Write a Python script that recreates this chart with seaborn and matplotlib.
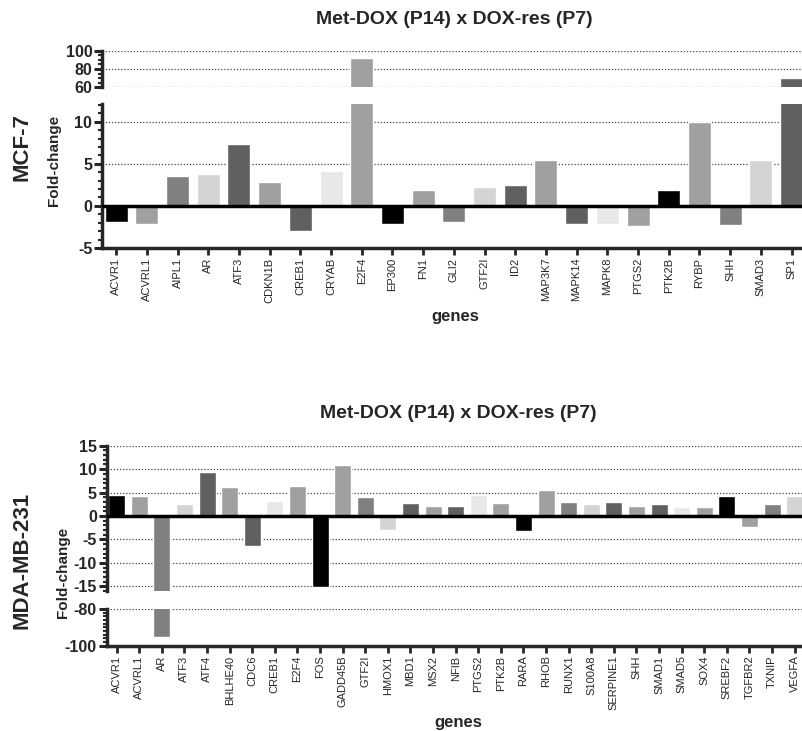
import numpy as np
import pandas as pd
import matplotlib
matplotlib.use("Agg")
import matplotlib.pyplot as plt
from matplotlib.ticker import MultipleLocator
import seaborn as sns

# MCF-7 fold changes
mcf7_genes = ["ACVR1", "ACVRL1", "AIPL1", "AR", "ATF3", "CDKN1B", "CREB1", "CRYAB",
              "E2F4", "EP300", "FN1", "GLI2", "GTF2I", "ID2", "MAP3K7", "MAPK14",
              "MAPK8", "PTGS2", "PTK2B", "RYBP", "SHH", "SMAD3", "SP1"]
mcf7_fc = [-1.9, -2.2, 3.6, 3.8, 7.3, 2.8, -3.0, 4.2,
           92.0, -2.1, 1.9, -1.9, 2.2, 2.5, 5.5, -2.1,
           -2.2, -2.4, 1.9, 10.0, -2.3, 5.4, 70.0]

# MDA-MB-231 fold changes
mda_genes = ["ACVR1", "ACVRL1", "AR", "ATF3", "ATF4", "BHLHE40", "CDC6", "CREB1",
             "E2F4", "FOS", "GADD45B", "GTF2I", "HMOX1", "MBD1", "MSX2", "NFIB",
             "PTGS2", "PTK2B", "RARA", "RHOB", "RUNX1", "S100A8", "SERPINE1", "SHH",
             "SMAD1", "SMAD5", "SOX4", "SREBF2", "TGFBR2", "TXNIP", "VEGFA"]
mda_fc = [4.5, 4.3, -95.0, 2.5, 9.3, 6.1, -6.3, 3.2,
          6.4, -15.1, 10.8, 4.1, -3.0, 2.8, 2.2, 2.1,
          4.4, 2.7, -3.1, 5.6, 2.9, 2.5, 2.9, 2.2,
          2.5, 2.0, 2.0, 4.2, -2.4, 2.5, 4.2]

title = "Met-DOX (P14) x DOX-res (P7)"
shades = ["#000000", "#a0a0a0", "#808080", "#d4d4d4", "#606060",
          "#a0a0a0", "#606060", "#e8e8e8", "#a0a0a0"]

sns.set_style("ticks")
plt.rcParams["font.family"] = ["Liberation Sans", "DejaVu Sans"]
plt.rcParams["axes.unicode_minus"] = False

W, H = 803, 731
fig = plt.figure(figsize=(W / 100, H / 100), dpi=100)


def box(left, top, right, bottom):
    # pixel box -> figure fraction rect
    return [left / W, 1 - bottom / H, (right - left) / W, (bottom - top) / H]


def bars(ax, genes, vals):
    df = pd.DataFrame({"gene": genes, "fc": vals})
    pal = [shades[i % len(shades)] for i in range(len(genes))]
    sns.barplot(data=df, x="gene", y="fc", hue="gene", order=genes, hue_order=genes,
                palette=pal, width=0.75, saturation=1, legend=False, ax=ax)
    ax.set_xlabel("")
    ax.set_ylabel("")


def style(ax, major, minor, bottom):
    for s in ["top", "right"]:
        ax.spines[s].set_visible(False)
    ax.spines["left"].set_linewidth(2.5)
    ax.spines["bottom"].set_linewidth(2.5)
    ax.spines["bottom"].set_visible(bottom)
    ax.yaxis.set_major_locator(MultipleLocator(major))
    ax.yaxis.set_minor_locator(MultipleLocator(minor))
    ax.tick_params(axis="y", which="major", length=6, width=2.2, labelsize=11.5, pad=1)
    ax.tick_params(axis="y", which="minor", length=3, width=1.5)
    for t in ax.get_yticklabels():
        t.set_fontweight("bold")
    ax.yaxis.grid(True, which="major", linestyle=(0, (1, 1.5)), color="#444444", linewidth=0.9)
    ax.set_axisbelow(True)
    if bottom:
        ax.tick_params(axis="x", which="major", length=5, width=2, labelsize=8, pad=2,
                       labelrotation=90)
    else:
        ax.tick_params(axis="x", which="both", bottom=False, labelbottom=False)


# ---- MCF-7 panel ----
x_right = 803
ax1u = fig.add_axes(box(102, 51, x_right, 87))
ax1l = fig.add_axes(box(102, 104, x_right, 248))
for ax in (ax1u, ax1l):
    bars(ax, mcf7_genes, mcf7_fc)
    ax.set_xlim(-0.46, -0.46 + (x_right - 102) / 30.7)
ax1u.set_ylim(60, 100)
ax1l.set_ylim(-5, 12.1)
style(ax1u, 20, 5, False)
style(ax1l, 5, 1, True)
ax1l.axhline(0, color="black", lw=2.5, zorder=5)

# ---- MDA-MB-231 panel ----
ax2u = fig.add_axes(box(106.7, 445.7, x_right, 591))
ax2l = fig.add_axes(box(106.7, 609, x_right, 645.7))
for ax in (ax2u, ax2l):
    bars(ax, mda_genes, mda_fc)
    ax.set_xlim(-0.44, -0.44 + (x_right - 106.7) / 22.6)
ax2u.set_ylim(-16, 15)
ax2l.set_ylim(-100, -80)
style(ax2u, 5, 1, False)
style(ax2l, 20, 2, True)
ax2u.axhline(0, color="black", lw=2.5, zorder=5)

# titles and labels
fig.text(454 / W, 1 - 19 / H, title, ha="center", va="center", fontsize=14, fontweight="bold")
fig.text(458 / W, 1 - 413 / H, title, ha="center", va="center", fontsize=14, fontweight="bold")
fig.text(22 / W, 1 - 147 / H, "MCF-7", rotation=90, ha="center", va="center",
         fontsize=16, fontweight="bold")
fig.text(22 / W, 1 - 560 / H, "MDA-MB-231", rotation=90, ha="center", va="center",
         fontsize=16, fontweight="bold")
fig.text(54 / W, 1 - 160 / H, "Fold-change", rotation=90, ha="center", va="center",
         fontsize=11, fontweight="bold")
fig.text(63 / W, 1 - 572 / H, "Fold-change", rotation=90, ha="center", va="center",
         fontsize=11, fontweight="bold")
fig.text(455 / W, 1 - 317 / H, "genes", ha="center", va="center", fontsize=12, fontweight="bold")
fig.text(458 / W, 1 - 722 / H, "genes", ha="center", va="center", fontsize=12, fontweight="bold")

fig.savefig("out.png", dpi=100)
